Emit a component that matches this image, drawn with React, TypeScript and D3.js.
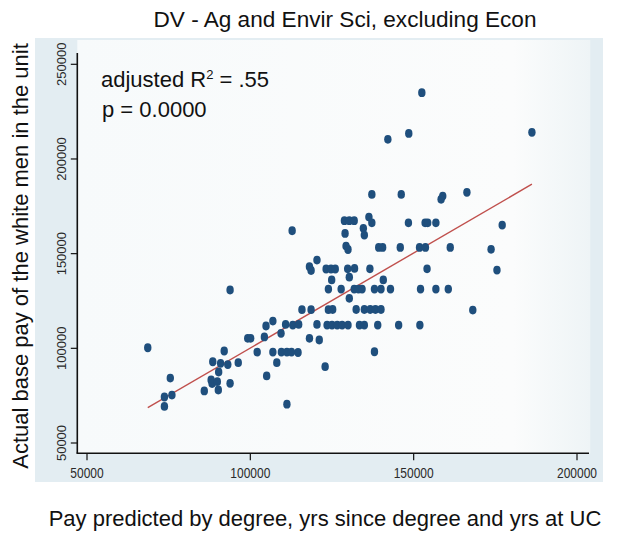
import React from "react";
import * as d3 from "d3";

const title = "DV - Ag and Envir Sci, excluding Econ";
const xTitle = "Pay predicted by degree, yrs since degree and yrs at UC";
const yTitle = "Actual base pay of the white men in the unit";

const xTicks = [50000, 100000, 150000, 200000];
const yTicks = [50000, 100000, 150000, 200000, 250000];

const predicted = [
  68600, 75500, 73700, 73700, 76000, 85900, 88500, 92000, 90900, 93100,
  96300, 90300, 88000, 88300, 89900, 90200, 93800, 93800, 99200, 100100,
  102100, 104300, 104800, 106900, 105000, 108100, 106900, 109500, 111200, 112600,
  114600, 109400, 111200, 110800, 113000, 114800, 115800, 118600, 118100, 121100,
  120400, 122900, 112800, 118100, 118600, 120400, 123200, 124700, 126000, 129800,
  131900, 136600, 154100, 124900, 130300, 140700, 123900, 127800, 131800, 133100,
  134200, 138000, 140000, 142900, 152100, 156800, 160600, 130300, 123900, 125200,
  132400, 134900, 136700, 138300, 140000, 123500, 125000, 126600, 128100, 129900,
  133400, 134900, 139000, 145400, 151900, 129300, 129900, 139300, 140500, 145900,
  151800, 153600, 161200, 173700, 129000, 134600, 134900, 136300, 137200, 128800,
  130300, 131800, 148400, 153500, 154300, 156800, 137200, 146200, 158900, 158400,
  166300, 177100, 142100, 148500, 152500, 186200, 175500, 168100, 138000,
];

const actual = [
  100300, 84300, 74300, 69300, 75300, 77500, 92900, 98600, 92100, 91400,
  92400, 87500, 83300, 81400, 82400, 78000, 81500, 130800, 105300, 105300,
  98000, 106000, 111800, 114400, 85400, 92400, 98000, 98000, 98000, 98000,
  97800, 107900, 70500, 112600, 112300, 112600, 120400, 120400, 105300, 104400,
  112600, 90300, 162100, 143100, 141100, 146600, 141900, 141900, 141900, 142000,
  142200, 142000, 142000, 136100, 137600, 136100, 131300, 131300, 131300, 131300,
  131300, 131300, 131300, 131300, 131300, 131300, 131300, 126400, 120400, 120500,
  120500, 120500, 120500, 120500, 120500, 112300, 112300, 112300, 112300, 112300,
  112300, 112300, 112300, 112300, 112300, 154000, 152200, 153300, 153300, 153300,
  153300, 153300, 153300, 152300, 160700, 163400, 159800, 169300, 166300, 167400,
  167400, 167400, 166300, 166300, 166300, 166300, 181300, 181300, 180400, 178700,
  182400, 165100, 210400, 213500, 235000, 214100, 141300, 120200, 98200,
];

const fitIntercept = -150;
const fitSlope = 1.0033;
const annotR2 = ".55";
const annotP = "0.0000";

const FONT = "'Liberation Sans', Arial, sans-serif";

export default function App() {
  const W = 625;
  const H = 533;
  const x = d3.scaleLinear().domain([50000, 200000]).range([87, 577]);
  const y = d3.scaleLinear().domain([50000, 250000]).range([443, 64.3]);
  const axisY = 453.3;
  const axisX = 77.3;

  const xMin = d3.min(predicted) as number;
  const xMax = d3.max(predicted) as number;
  const fitLine = d3.line<number>()
    .x((d) => x(d))
    .y((d) => y(fitIntercept + fitSlope * d));

  const points = predicted.map((p, i) => ({ p, a: actual[i] }));

  return (
    <svg
      width={W}
      height={H}
      style={{ position: "absolute", left: 0, top: 0, background: "#ffffff" }}
    >
      <defs>
        <linearGradient id="plotbg" x1="0" y1="0" x2="1" y2="0">
          <stop offset="0%" stopColor="#f7fafb" />
          <stop offset="85%" stopColor="#fbfcfc" />
          <stop offset="100%" stopColor="#eef4f6" />
        </linearGradient>
      </defs>
      <rect x={35} y={38} width={568} height={444} fill="#e3edf2" />
      <rect x={axisX} y={40} width={513} height={axisY - 40} fill="url(#plotbg)" />

      {/* axes */}
      <line x1={axisX} x2={axisX} y1={53} y2={axisY} stroke="#111" strokeWidth={1.6} />
      <line x1={axisX - 0.8} x2={589} y1={axisY} y2={axisY} stroke="#111" strokeWidth={1.6} />

      {yTicks.map((t) => (
        <g key={"yt" + t}>
          <line x1={axisX - 6.5} x2={axisX} y1={y(t)} y2={y(t)} stroke="#111" strokeWidth={1.2} />
          <text
            transform={`translate(66,${y(t)}) rotate(-90)`}
            textAnchor="middle"
            fontFamily={FONT}
            fontSize={13}
            fill="#2a2a2a"
          >
            {t}
          </text>
        </g>
      ))}

      {xTicks.map((t) => (
        <g key={"xt" + t}>
          <line x1={x(t)} x2={x(t)} y1={axisY} y2={axisY + 7} stroke="#111" strokeWidth={1.2} />
          <text
            transform={`translate(${x(t)},478) scale(0.8,1)`}
            textAnchor="middle"
            fontFamily={FONT}
            fontSize={15}
            fill="#2a2a2a"
          >
            {t}
          </text>
        </g>
      ))}

      {/* regression line */}
      <path d={fitLine([xMin, xMax]) || ""} stroke="#c0504d" strokeWidth={1.4} fill="none" />

      {/* points */}
      {points.map((d, i) => (
        <ellipse
          key={i}
          cx={x(d.p)}
          cy={y(d.a)}
          rx={3.7}
          ry={4.4}
          fill="#1f4f7d"
        />
      ))}

      {/* annotations */}
      <text x={101} y={86.5} fontFamily={FONT} fontSize={22} fill="#111">
        adjusted R
        <tspan fontSize={13} dy={-8}>2</tspan>
        <tspan dy={8}>{" = " + annotR2}</tspan>
      </text>
      <text x={102} y={117} fontFamily={FONT} fontSize={22} fill="#111">
        {"p = " + annotP}
      </text>

      {/* titles */}
      <text x={345} y={27} textAnchor="middle" fontFamily={FONT} fontSize={22.6} fill="#111">
        {title}
      </text>
      <text x={325} y={526} textAnchor="middle" fontFamily={FONT} fontSize={22} fill="#111">
        {xTitle}
      </text>
      <text
        transform={`translate(28,256) rotate(-90)`}
        textAnchor="middle"
        fontFamily={FONT}
        fontSize={22}
        fill="#111"
      >
        {yTitle}
      </text>
    </svg>
  );
}
